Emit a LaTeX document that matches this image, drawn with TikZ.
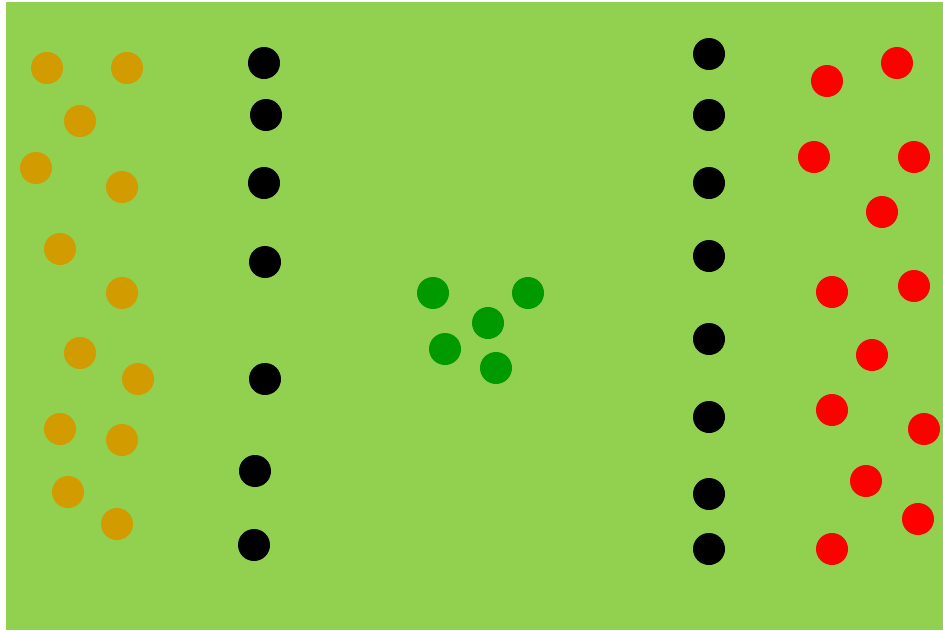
\documentclass[tikz,border=0pt]{standalone}
\definecolor{field}{RGB}{146,208,80}
\definecolor{orangedot}{RGB}{210,155,0}
\definecolor{greendot}{RGB}{0,153,0}
\definecolor{reddot}{RGB}{255,0,0}
\begin{document}
\begin{tikzpicture}[x=1pt,y=-1pt,
  dot/.style={circle,inner sep=0pt,minimum size=32pt,draw=none},
  od/.style={dot,fill=orangedot},
  bd/.style={dot,fill=black},
  gd/.style={dot,fill=greendot},
  rd/.style={dot,fill=reddot}]
\fill[white] (0,0) rectangle (943,630);
\useasboundingbox (0,0) rectangle (943,630);
\fill[field] (6,2) rectangle (943,630);
% orange
\foreach \p [count=\i] in {(47,68),(127,68),(80,121),(36,168),(122,187),(60,249),(122,293),(80,353),(138,379),(60,429),(122,440),(68,492),(117,524)}
  \node[od] (o\i) at \p {};
% black left
\foreach \p [count=\i] in {(264,63),(266,115),(264,183),(265,262),(265,379),(255,471),(254,545)}
  \node[bd] (bl\i) at \p {};
% black right
\foreach \p [count=\i] in {(709,54),(709,115),(709,183),(709,256),(709,339),(709,417),(709,494),(709,549)}
  \node[bd] (br\i) at \p {};
% green
\foreach \p [count=\i] in {(433,293),(528,293),(488,323),(445,349),(496,368)}
  \node[gd] (g\i) at \p {};
% red
\foreach \p [count=\i] in {(827,81),(897,63),(814,157),(914,157),(882,212),(832,292),(914,286),(872,355),(832,410),(924,429),(866,481),(918,519),(832,549)}
  \node[rd] (r\i) at \p {};
\end{tikzpicture}
\end{document}
